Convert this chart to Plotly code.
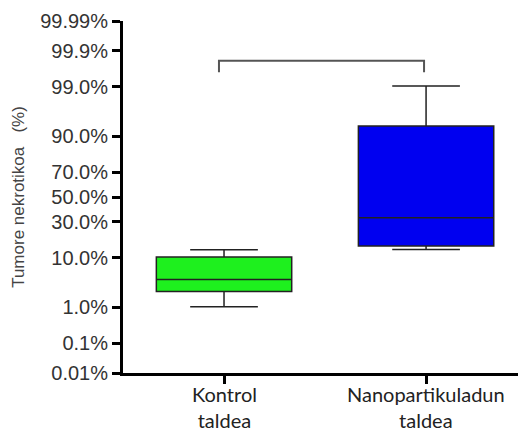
import plotly.graph_objects as go
from statistics import NormalDist

# ---- data (percent values) ----
categories = ["Kontrol<br>taldea", "Nanopartikuladun<br>taldea"]
lower_whisker = [1.02, 13.4]
q1_vals = [2.3, 15.0]
median_vals = [4.05, 33.0]
q3_vals = [10.2, 93.3]
upper_whisker = [13.3, 99.05]
box_colors = ["#1EF01E", "#0000F0"]
label_drop = [7, 7]  # px below the axis where each category label starts

tick_labels = ["0.01%", "0.1%", "1.0%", "10.0%", "30.0%", "50.0%",
               "70.0%", "90.0%", "99.0%", "99.9%", "99.99%"]
tick_percents = [0.01, 0.1, 1.0, 10.0, 30.0, 50.0, 70.0, 90.0, 99.0, 99.9, 99.99]

bracket_top = 99.8
bracket_leg = 99.58

nd = NormalDist()


def probit(p):
    return nd.inv_cdf(p / 100.0)


fig = go.Figure()
for i, cat in enumerate(categories):
    fig.add_trace(go.Box(
        x=[i],
        q1=[probit(q1_vals[i])],
        median=[probit(median_vals[i])],
        q3=[probit(q3_vals[i])],
        lowerfence=[probit(lower_whisker[i])],
        upperfence=[probit(upper_whisker[i])],
        fillcolor=box_colors[i],
        line=dict(color="#222222", width=1.5),
        width=0.67,
        whiskerwidth=0.5,
        boxpoints=False,
        showlegend=False,
        hoverinfo="skip",
    ))
    fig.add_annotation(
        x=i, xref="x", y=0, yref="paper",
        yanchor="top", yshift=-label_drop[i],
        text=cat, showarrow=False, align="center",
        font=dict(family="Lato", size=20, color="#222222"),
    )

# significance bracket
fig.add_trace(go.Scatter(
    x=[-0.025, -0.025, 0.99, 0.99],
    y=[probit(bracket_leg), probit(bracket_top), probit(bracket_top), probit(bracket_leg)],
    mode="lines",
    line=dict(color="#555555", width=2),
    showlegend=False,
    hoverinfo="skip",
))

fig.update_layout(
    width=518, height=432,
    margin=dict(l=123, r=0, t=21, b=59, autoexpand=False),
    plot_bgcolor="white", paper_bgcolor="white",
    xaxis=dict(
        range=[-0.5, 1.455],
        tickvals=[0, 1],
        showticklabels=False,
        automargin=False,
        showline=True, linecolor="black", linewidth=3,
        ticks="outside", ticklen=8, tickwidth=3, tickcolor="black",
        showgrid=False, zeroline=False,
    ),
    yaxis=dict(
        range=[probit(0.01), probit(99.99)],
        tickvals=[probit(p) for p in tick_percents],
        ticktext=tick_labels,
        automargin=False,
        showline=True, linecolor="black", linewidth=3,
        ticks="outside", ticklen=8, tickwidth=3, tickcolor="black",
        showgrid=False, zeroline=False,
        tickfont=dict(family="Liberation Sans", size=20, color="#333333"),
        title=dict(text="Tumore nekrotikoa\u00a0\u00a0\u00a0(%)",
                   font=dict(family="Liberation Sans", size=17, color="#444444"),
                   standoff=12),
    ),
)

fig.write_html(
    "out.html",
    config={"displayModeBar": False},
    post_script="document.body.style.margin='0';document.body.style.overflow='hidden';",
)
